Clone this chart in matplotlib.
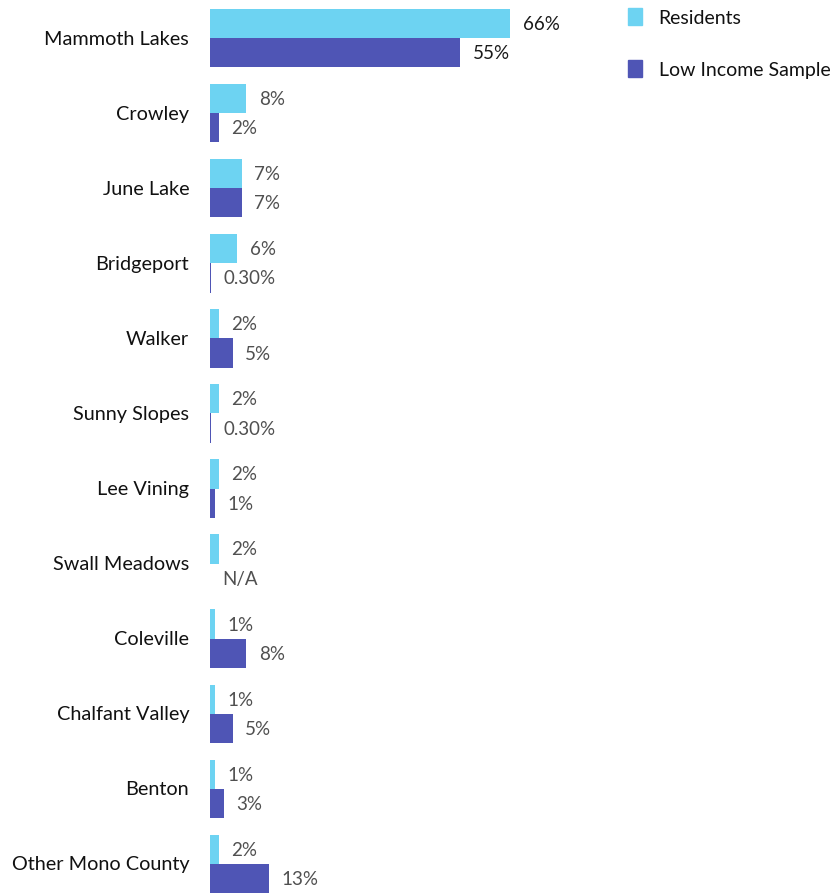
import matplotlib.pyplot as plt
from matplotlib.patches import Patch

plt.rcParams['font.family'] = ['Lato', 'DejaVu Sans']

# chart values
places = ["Mammoth Lakes", "Crowley", "June Lake", "Bridgeport", "Walker", "Sunny Slopes",
          "Lee Vining", "Swall Meadows", "Coleville", "Chalfant Valley", "Benton", "Other Mono County"]
residents = [66, 8, 7, 6, 2, 2, 2, 2, 1, 1, 1, 2]
low_income = [55, 2, 7, 0.3, 5, 0.3, 1, None, 8, 5, 3, 13]
res_labels = ["66%", "8%", "7%", "6%", "2%", "2%", "2%", "2%", "1%", "1%", "1%", "2%"]
low_labels = ["55%", "2%", "7%", "0.30%", "5%", "0.30%", "1%", "N/A", "8%", "5%", "3%", "13%"]

res_color = "#6DD3F2"
low_color = "#4F55B5"

fig = plt.figure(figsize=(8.39, 8.95), dpi=100)
ax = fig.add_axes([210 / 839, 0, 629 / 839, 1])

bar_h = 0.39
ys = list(range(len(places)))
res_y = [y - bar_h / 2 for y in ys]
low_y = [y + bar_h / 2 for y in ys]
low_vals = [v if v is not None else 0 for v in low_income]

ax.barh(res_y, residents, height=bar_h, color=res_color, align="center")
ax.barh(low_y, low_vals, height=bar_h, color=low_color, align="center")

for i in ys:
    col = "#1a1a1a" if i == 0 else "#505050"
    ax.annotate(res_labels[i], (residents[i], res_y[i]), xytext=(9, 0), textcoords="offset points",
                va="center", ha="left", fontsize=13.5, color=col)
    ax.annotate(low_labels[i], (low_vals[i], low_y[i]), xytext=(9, 0), textcoords="offset points",
                va="center", ha="left", fontsize=13.5, color=col)
    ax.annotate(places[i], (0, ys[i]), xytext=(-15, 0), textcoords="offset points",
                va="center", ha="right", fontsize=14.3, color="#111111", annotation_clip=False)

ax.set_xlim(0, 629 / 4.55)
ax.set_ylim(11.4, -0.52)
ax.axis("off")

handles = [Patch(color=res_color, label="Residents"), Patch(color=low_color, label="Low Income Sample")]
fig.legend(handles=handles, loc="upper left", bbox_to_anchor=(610 / 839, 1 + 9 / 895), frameon=False,
           fontsize=14, handlelength=0.75, handleheight=1.0, handletextpad=0.85, labelspacing=1.75,
           labelcolor="#111111")

fig.savefig("out.png", dpi=100)
